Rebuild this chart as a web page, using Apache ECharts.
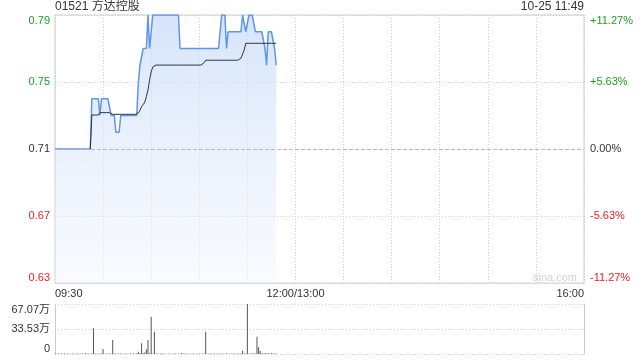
<!DOCTYPE html>
<html><head><meta charset="utf-8">
<script src="https://cdn.jsdelivr.net/npm/echarts@6/dist/echarts.min.js"></script>
<style>html,body{margin:0;padding:0;background:#fff}#c{width:640px;height:360px}</style>
</head><body><div id="c"></div>
<script>
const titleText = '01521 方达控股';
const stampText = '10-25 11:49';
const prevClose = 0.71;
const priceMin = 0.63, priceMax = 0.79, priceStep = 0.04;
const xTickValues = [0, 150, 330];
const xTickLabels = ['09:30', '12:00/13:00', '16:00'];
const volTickLabels = ['0', '33.53万', '67.07万'];
const volMax = 67.07;

// one value per minute from 09:30
const price = [
  0.71,0.71,0.71,0.71,0.71,0.71,0.71,0.71,0.71,0.71,0.71,0.71,0.71,0.71,0.71,0.71,0.71,0.71,0.71,0.71,0.71,0.71,0.71,
  0.74,0.74,0.74,0.74,0.74,
  0.73,
  0.74,0.74,0.74,0.74,0.74,0.74,
  0.73,0.73,0.73,
  0.72,0.72,0.72,
  0.73,0.73,0.73,0.73,0.73,0.73,0.73,0.73,0.73,0.73,0.73,
  0.75,
  0.76,0.76,
  0.77,0.77,0.77,
  0.79,
  0.77,0.77,
  0.79,0.79,0.79,0.79,0.79,0.79,0.79,0.79,0.79,0.79,0.79,0.79,0.79,0.79,0.79,0.79,0.79,
  0.77,0.77,0.77,0.77,0.77,0.77,0.77,0.77,0.77,0.77,0.77,0.77,0.77,0.77,0.77,0.77,0.77,0.77,0.77,0.77,0.77,0.77,0.77,0.77,0.77,0.77,
  0.79,0.79,0.79,
  0.77,
  0.78,0.78,0.78,0.78,0.78,0.78,0.78,0.78,0.78,
  0.79,0.79,
  0.78,0.78,
  0.79,0.79,0.79,0.79,
  0.78,0.78,0.78,0.78,0.78,0.78,
  0.77,
  0.76,
  0.78,0.78,0.78,0.78,
  0.77,
  0.76
];
// average price line (not drawn before the first trade)
const avgPrice = [
  null,null,null,null,null,null,null,null,null,null,null,null,null,null,null,null,null,null,null,null,null,null,0.71,
  0.7303,0.7303,0.7303,0.7303,0.7303,
  0.7317,0.7317,0.7317,0.7317,0.7317,0.7317,0.7317,
  0.7307,0.7307,0.7307,0.7307,0.7307,0.7307,0.7307,0.7307,0.7307,0.7307,0.7307,0.7307,0.7307,0.7307,0.7307,0.7307,0.7307,
  0.7315,0.7330,0.7353,0.7365,0.7380,0.7412,0.7452,0.7512,0.7561,0.7590,
  0.7601,0.7601,0.7601,0.7601,0.7601,0.7601,0.7601,0.7601,0.7601,0.7601,0.7601,0.7601,0.7601,0.7601,0.7601,0.7601,
  0.7601,0.7601,0.7601,0.7601,0.7601,0.7601,0.7601,0.7601,0.7601,0.7601,0.7601,0.7601,0.7601,0.7601,0.7601,
  0.7615,
  0.7630,0.7630,0.7630,0.7630,0.7630,0.7630,0.7630,0.7630,0.7630,0.7630,0.7630,
  0.7630,0.7630,0.7630,0.7630,0.7630,0.7630,0.7630,0.7630,0.7630,0.7630,0.7630,
  0.7642,0.7642,
  0.7690,
  0.7731,0.7731,0.7731,0.7731,0.7731,0.7731,0.7731,0.7731,0.7731,0.7731,
  0.7731,0.7731,0.7731,0.7731,0.7731,0.7731,0.7731,0.7731,0.7731,0.7731
];
// volume in 万 shares per minute
const volume = [
  0.8,0.5,0.6,0.4,0.7,0.5,0.6,0.4,0.8,0.5,0.3,0.6,0.5,0.4,0.7,0.5,0.6,0.4,0.5,0.9,0.6,0.4,0.5,
  0.8,34.5,0.6,0.4,0.5,0.6,0.8,6.7,0.5,0.4,0.6,0.5,0.7,18.8,0.5,0.6,0.4,0.5,0.7,0.5,0.4,0.6,0.5,0.4,0.6,0.5,0.7,0.5,0.6,
  3.0,1.0,14.5,1.2,2.0,6.5,18.8,1.0,50.0,0.8,30.0,0.6,0.5,
  0.4,0.6,0.5,0.7,0.4,0.5,0.6,0.3,0.5,0.4,0.6,0.5,0.4,0.5,1.3,0.6,0.4,0.5,0.7,0.5,0.4,0.6,0.5,0.3,0.5,0.6,0.4,0.5,0.7,
  30.0,
  0.5,0.4,0.6,0.5,0.7,0.4,0.5,0.6,0.5,0.8,0.4,0.5,0.6,0.5,0.4,0.6,0.5,0.7,0.5,0.6,0.4,0.8,
  4.4,0.8,0.6,67.07,0.7,0.5,0.6,0.8,0.6,23.3,9.0,4.0,1.0,0.8,1.2,0.6,0.9,0.5,1.0,0.7,0.6,0.8
];

const FONT = 'Arial, "Liberation Sans", "Noto Sans CJK SC", sans-serif';
const GREEN = '#1ea01e', RED = '#f02020', DARK = '#333';
function colorFor(v){
  if (v > prevClose + 1e-6) return GREEN;
  if (v < prevClose - 1e-6) return RED;
  return DARK;
}
function pctText(v){
  let p = (v / prevClose - 1) * 100;
  if (Math.abs(p) < 0.005) return '0.00%';
  return (p > 0 ? '+' : '') + p.toFixed(2) + '%';
}
const pricePts = price.map((v, i) => [i, v]);
const avgPts = avgPrice.map((v, i) => [i, v]);
const volPts = volume.map((v, i) => [i, v]);

const dotted = {color: '#cfcfcf', type: [1, 2], width: 1};
const chart = echarts.init(document.getElementById('c'), null, {renderer: 'canvas'});
chart.setOption({
  animation: false,
  textStyle: {fontFamily: FONT},
  grid: [
    {left: 55, top: 15, width: 529, height: 268, show: true, borderColor: '#cccccc', borderWidth: 1, backgroundColor: 'transparent'},
    {left: 55, top: 304, width: 529, height: 50, show: false}
  ],
  xAxis: [
    {type: 'value', gridIndex: 0, min: 0, max: 330, interval: 30,
     axisLine: {show: false}, axisTick: {show: false},
     splitLine: {show: true, lineStyle: dotted},
     axisLabel: {show: true, margin: 5, fontSize: 11, color: DARK, fontFamily: FONT,
       alignMinLabel: 'left', alignMaxLabel: 'right',
       formatter: v => { const k = xTickValues.indexOf(Math.round(v)); return k >= 0 ? xTickLabels[k] : ''; }}},
    {type: 'value', gridIndex: 1, min: 0, max: 330, interval: 30,
     axisLine: {show: false}, axisTick: {show: false}, axisLabel: {show: false}, splitLine: {show: false}}
  ],
  yAxis: [
    {type: 'value', gridIndex: 0, min: priceMin, max: priceMax, interval: priceStep, position: 'left',
     axisLine: {show: false}, axisTick: {show: false},
     splitLine: {show: true, lineStyle: dotted},
     axisLabel: {margin: 5, fontSize: 11, fontFamily: FONT,
       verticalAlignMinLabel: 'bottom', verticalAlignMaxLabel: 'top',
       color: v => colorFor(v), formatter: v => v.toFixed(2)}},
    {type: 'value', gridIndex: 0, min: priceMin, max: priceMax, interval: priceStep, position: 'right',
     axisLine: {show: false}, axisTick: {show: false}, splitLine: {show: false},
     axisLabel: {margin: 6, fontSize: 11, fontFamily: FONT,
       verticalAlignMinLabel: 'bottom', verticalAlignMaxLabel: 'top',
       color: v => colorFor(v), formatter: v => pctText(v)}},
    {type: 'value', gridIndex: 1, min: 0, max: volMax, interval: volMax / 2, position: 'left',
     axisLine: {show: true, lineStyle: {color: '#cccccc'}}, axisTick: {show: false},
     splitLine: {show: true, lineStyle: dotted},
     axisLabel: {margin: 5, fontSize: 11, color: DARK, fontFamily: FONT,
       verticalAlignMinLabel: 'bottom', verticalAlignMaxLabel: 'top',
       formatter: (v, i) => volTickLabels[i] !== undefined ? volTickLabels[i] : ''}},
    {type: 'value', gridIndex: 1, min: 0, max: volMax, position: 'right',
     axisLine: {show: true, lineStyle: {color: '#cccccc'}}, axisTick: {show: false},
     axisLabel: {show: false}, splitLine: {show: false}}
  ],
  series: [
    {type: 'line', xAxisIndex: 0, yAxisIndex: 0, data: pricePts, symbol: 'none', z: 3,
     lineStyle: {color: '#5f95ea', width: 1.5},
     areaStyle: {color: new echarts.graphic.LinearGradient(0, 0, 0, 1, [
       {offset: 0, color: 'rgba(194,214,247,0.95)'},
       {offset: 1, color: 'rgba(240,246,255,0.6)'}])}},
    {type: 'line', xAxisIndex: 0, yAxisIndex: 0, data: avgPts, symbol: 'none', z: 4, connectNulls: false,
     lineStyle: {color: '#2b3340', width: 1},
     markLine: {silent: true, symbol: 'none', label: {show: false},
       lineStyle: {color: '#b8b8b8', type: [4, 2], width: 1},
       data: [{yAxis: prevClose}]}},
    {type: 'bar', xAxisIndex: 1, yAxisIndex: 2, data: volPts, barWidth: 1,
     itemStyle: {color: '#555555'}}
  ],
  graphic: [
    {type: 'text', left: 55, top: 1, style: {text: titleText, font: '12px ' + FONT, fill: DARK}},
    {type: 'text', right: 56, top: 1, style: {text: stampText, font: '12px ' + FONT, fill: DARK}},
    {type: 'text', right: 63, top: 272, style: {text: 'sina.com', font: '11px ' + FONT, fill: '#d0d0d0'}}
  ]
});
</script></body></html>
